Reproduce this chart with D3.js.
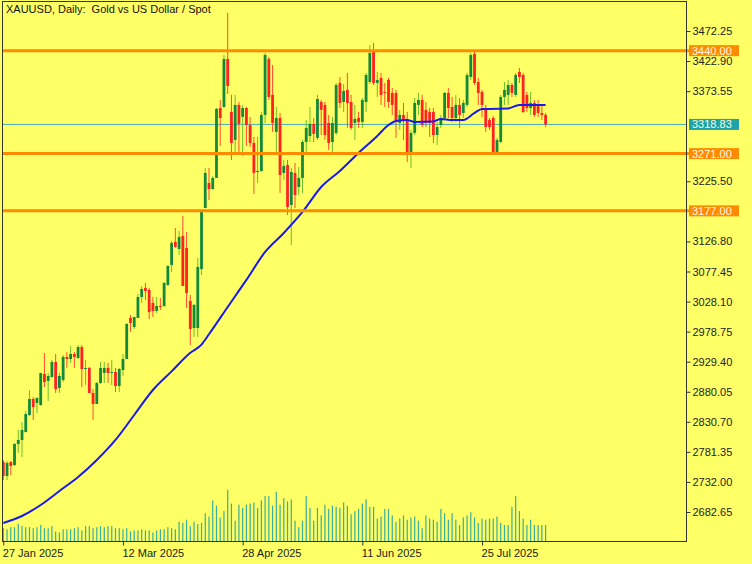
<!DOCTYPE html>
<html>
<head>
<meta charset="utf-8">
<script src="https://cdnjs.cloudflare.com/ajax/libs/d3/7.8.5/d3.min.js"></script>
<style>
  body { margin: 0; background: #ffff66; }
  svg { display: block; font-family: "Liberation Sans", Arial, sans-serif; }
</style>
</head>
<body>
<div id="chart"></div>
<script>
// daily XAUUSD bars, 27 Jan 2025 onwards
var opens = [2764.7,2741.8,2764.7,2759.8,2794.3,2800.9,2813.8,2841.9,2868.2,2861.6,
  2858.3,2909.2,2897.7,2904.3,2928.9,2886.2,2899.4,2937.1,2933.8,2942.0,
  2935.5,2953.5,2917.4,2919.1,2878.0,2860.0,2894.4,2910.9,2919.1,2910.9,
  2912.5,2889.5,2915.8,2933.8,3001.2,2986.4,3001.2,3035.6,3050.4,3047.1,
  3025.8,3012.7,3020.9,3020.9,3055.4,3088.2,3126.0,3114.5,3135.8,3116.1,
  3029.1,2984.7,2984.7,3081.6,3181.7,3222.8,3212.9,3231.0,3345.9,3347.6,
  3426.4,3339.4,3293.4,3350.9,3331.2,3345.9,3318.0,3288.5,3240.9,3242.5,
  3334.5,3426.4,3367.3,3306.6,3329.5,3239.2,3252.3,3186.7,3239.2,3216.2,
  3231.0,3290.1,3300.0,3319.7,3296.7,3355.8,3350.9,3321.3,3290.1,3304.9,
  3387.0,3355.8,3375.5,3355.8,3321.3,3329.5,3323.0,3355.8,3388.6,3437.9,
  3387.0,3395.2,3372.2,3391.9,3370.6,3370.6,3321.3,3334.5,3326.2,3273.7,
  3304.9,3350.9,3359.1,3342.7,3339.4,3339.4,3301.6,3318.0,3329.5,3370.6,
  3347.6,3329.5,3350.9,3337.7,3350.9,3396.8,3434.6,3388.6,3372.2,3345.9,
  3326.2,3329.5,3273.7,3290.1,3364.0,3367.3,3383.7,3367.3,3405.0,3400.1,
  3367.3,3345.9,3354.2,3350.9,3337.7,3334.5];

var highs = [2768.0,2766.4,2766.4,2795.9,2817.4,2830.4,2848.5,2882.9,2871.4,2871.4,
  2910.9,2943.7,2910.9,2932.2,2942.0,2910.9,2940.4,2945.3,2955.2,2945.3,
  2956.8,2956.8,2932.2,2920.7,2884.6,2896.1,2928.9,2928.9,2927.3,2932.2,
  2919.1,2919.1,2942.0,2992.9,3006.1,3002.8,3040.6,3053.7,3058.6,3050.4,
  3035.6,3035.6,3034.0,3060.3,3088.2,3127.6,3148.9,3144.0,3168.6,3142.4,
  3038.9,3024.2,3099.7,3178.5,3247.4,3247.4,3234.3,3345.9,3359.1,3432.9,
  3501.9,3367.3,3367.3,3355.8,3350.9,3347.6,3331.2,3298.3,3298.3,3339.4,
  3436.2,3429.7,3416.5,3347.6,3337.7,3260.5,3260.5,3247.4,3255.6,3249.1,
  3293.4,3326.2,3347.6,3329.5,3367.3,3359.1,3355.8,3334.5,3331.2,3387.0,
  3396.8,3385.3,3403.4,3367.3,3350.9,3339.4,3362.3,3403.4,3449.4,3452.7,
  3405.0,3403.4,3387.0,3395.2,3378.8,3375.5,3342.7,3354.2,3339.4,3309.9,
  3362.3,3370.6,3367.3,3355.8,3345.9,3345.9,3323.0,3334.5,3372.2,3378.8,
  3364.0,3367.3,3362.3,3359.1,3403.4,3436.2,3441.2,3395.2,3375.5,3350.9,
  3329.5,3332.8,3296.7,3367.3,3388.6,3391.9,3387.0,3403.4,3411.6,3403.4,
  3372.2,3372.2,3359.1,3359.1,3350.9,3337.7];

var lows = [2735.2,2735.2,2743.4,2758.2,2779.5,2773.0,2813.8,2840.2,2833.7,2845.2,
  2856.7,2887.9,2864.9,2902.6,2878.0,2878.0,2896.1,2919.1,2927.3,2919.1,
  2933.8,2887.9,2891.1,2878.0,2833.7,2860.0,2892.8,2894.4,2894.4,2891.1,
  2879.6,2879.6,2905.9,2933.8,2978.2,2983.1,3001.2,3025.8,3030.7,2999.5,
  3002.8,3009.4,3014.3,3019.2,3053.7,3076.7,3116.1,3104.6,3053.7,3017.6,
  2956.8,2970.0,2970.0,3071.8,3181.7,3194.9,3211.3,3231.0,3283.6,3345.9,
  3368.9,3260.5,3268.8,3268.8,3267.1,3283.6,3281.9,3204.7,3222.8,3240.9,
  3321.3,3359.1,3306.6,3273.7,3206.4,3227.7,3170.2,3121.0,3181.7,3203.1,
  3206.4,3273.7,3290.1,3290.1,3293.4,3301.6,3293.4,3277.0,3273.7,3301.6,
  3345.9,3339.4,3313.1,3309.9,3293.4,3313.1,3313.1,3339.4,3385.3,3383.7,
  3364.0,3350.9,3347.6,3345.9,3334.5,3296.7,3309.9,3293.4,3257.3,3247.4,
  3301.6,3334.5,3314.7,3314.7,3298.3,3288.5,3285.2,3313.1,3326.2,3329.5,
  3323.0,3323.0,3313.1,3329.5,3347.6,3391.9,3383.7,3350.9,3331.2,3306.6,
  3309.9,3268.8,3272.1,3288.5,3350.9,3350.9,3364.0,3364.0,3387.0,3337.7,
  3339.4,3334.5,3331.2,3331.2,3326.2,3314.7];

var closes = [2741.8,2763.1,2758.2,2794.3,2800.9,2817.4,2843.5,2868.2,2855.0,2869.8,
  2910.9,2896.1,2905.9,2928.9,2884.6,2905.9,2937.1,2933.8,2942.0,2937.1,
  2953.5,2917.4,2919.1,2878.0,2860.0,2894.4,2919.1,2919.1,2910.9,2912.5,
  2889.5,2917.4,2933.8,2991.3,2992.9,3002.8,3035.6,3048.8,3045.5,3011.0,
  3012.7,3020.9,3019.2,3058.6,3086.5,3124.3,3117.8,3134.2,3053.7,3042.2,
  2983.1,3022.5,3084.9,3175.2,3239.2,3212.9,3231.0,3344.3,3329.5,3426.4,
  3382.0,3288.5,3350.9,3319.7,3345.9,3318.0,3288.5,3239.2,3242.5,3334.5,
  3432.9,3364.0,3321.3,3329.5,3235.9,3250.7,3183.4,3240.9,3203.1,3231.0,
  3290.1,3313.1,3319.7,3303.3,3360.7,3342.7,3301.6,3288.5,3321.3,3383.7,
  3354.2,3373.9,3354.2,3313.1,3327.9,3323.0,3359.1,3400.1,3436.2,3387.0,
  3391.9,3367.3,3370.6,3355.8,3350.9,3323.0,3334.5,3326.2,3273.7,3304.9,
  3354.2,3359.1,3318.0,3321.3,3321.3,3301.6,3314.7,3329.5,3370.6,3345.9,
  3329.5,3350.9,3334.5,3354.2,3400.1,3432.9,3387.0,3370.6,3350.9,3314.7,
  3314.7,3273.7,3293.4,3364.0,3375.5,3383.7,3370.6,3400.1,3396.8,3339.4,
  3345.9,3354.2,3334.5,3337.7,3334.5,3318.8];

// tick volume
var volumes = [128,117,138,138,170,149,138,138,128,138,
  160,128,128,149,95,85,117,117,117,128,
  138,106,149,149,128,138,149,138,149,149,
  128,128,117,128,95,106,106,117,106,106,
  85,106,117,117,138,128,117,192,181,213,
  149,192,170,181,278,245,406,353,235,299,
  513,374,203,363,331,363,374,385,331,406,
  449,449,353,492,363,428,396,417,203,138,
  203,449,331,203,331,256,363,321,353,342,
  331,385,353,267,299,321,374,417,342,342,
  224,245,321,321,256,192,224,256,213,235,
  245,203,128,256,224,213,192,321,278,213,
  278,213,160,235,256,288,235,181,224,213,
  224,224,245,181,160,160,342,449,299,224,
  160,213,160,160,160,160];

// moving average, read at these bars
var maBars = [0,5,10,15,20,25,30,35,40,45,50,53,55,60,65,70,75,80,85,90,95,100,103,105,108,110,115,117,120,123,126,128,130,135,138,140,145];
var maValues = [2664.6,2676.1,2694.2,2717.1,2740.1,2768.0,2800.9,2841.9,2882.9,2913.5,
  2944.0,2957.5,2974.5,3019.2,3063.6,3109.5,3140.7,3175.2,3216.2,3242.5,
  3272.1,3300.0,3318.0,3324.6,3326.2,3323.0,3323.8,3327.9,3326.2,3326.2,
  3337.7,3344.3,3344.3,3345.1,3350.9,3350.9,3350.9];

var priceTicks = [3472.25,3422.90,3373.55,3225.50,3126.80,3077.45,3028.10,2978.75,2929.40,2880.05,2830.70,2781.35,2732.00,2682.65];
var levels = [3440.00, 3271.00, 3177.00];
var lastPrice = 3318.83;

var dateTickBars = [0, 32, 64, 96, 128];
var dateTickLabels = ['27 Jan 2025', '12 Mar 2025', '28 Apr 2025', '11 Jun 2025', '25 Jul 2025'];

(function() {
  var width = 752, height = 564;
  var plotLeft = 2.5, plotRight = 686.5, plotTop = 1.5, plotBottom = 541.5;

  var svg = d3.select("#chart")
      .append("svg")
      .attr("width", width)
      .attr("height", height);

  svg.append("rect")
      .attr("width", width)
      .attr("height", height)
      .attr("fill", "#ffff66");

  var xScale = d3.scaleLinear()
      .domain([0, 145])
      .range([3.3, 545.6]);

  var yScale = d3.scaleLinear()
      .domain([2682.65, 3472.25])
      .range([512, 31]);

  var volScale = d3.scaleLinear()
      .domain([0, 600])
      .range([541, 481]);

  svg.append("clipPath")
      .attr("id", "plot-clip")
      .append("rect")
      .attr("x", plotLeft)
      .attr("y", plotTop)
      .attr("width", plotRight - plotLeft)
      .attr("height", plotBottom - plotTop);

  var plot = svg.append("g").attr("clip-path", "url(#plot-clip)");

  // last price line
  plot.append("line")
      .attr("x1", plotLeft).attr("x2", plotRight)
      .attr("y1", yScale(lastPrice)).attr("y2", yScale(lastPrice))
      .attr("stroke", "#4bb0b8")
      .attr("stroke-width", 1);

  // volume
  plot.selectAll(".vol")
      .data(volumes)
      .enter().append("rect")
      .attr("class", "vol")
      .attr("x", function(d, i) { return xScale(i) - 0.6; })
      .attr("y", function(d) { return volScale(d); })
      .attr("width", 1.2)
      .attr("height", function(d) { return volScale(0) - volScale(d); })
      .attr("fill", "#3aae9a");

  var bars = d3.range(opens.length);

  plot.selectAll(".wick")
      .data(bars)
      .enter().append("line")
      .attr("class", "wick")
      .attr("x1", function(i) { return xScale(i); })
      .attr("x2", function(i) { return xScale(i); })
      .attr("y1", function(i) { return yScale(highs[i]); })
      .attr("y2", function(i) { return yScale(lows[i]); })
      .attr("stroke", function(i) { return closes[i] >= opens[i] ? "#6cbf2a" : "#ff4d2e"; })
      .attr("stroke-width", 1);

  plot.selectAll(".body")
      .data(bars)
      .enter().append("rect")
      .attr("class", "body")
      .attr("x", function(i) { return xScale(i) - 1.4; })
      .attr("y", function(i) { return yScale(Math.max(opens[i], closes[i])); })
      .attr("width", 2.8)
      .attr("height", function(i) {
        return Math.max(1, Math.abs(yScale(opens[i]) - yScale(closes[i])));
      })
      .attr("fill", function(i) { return closes[i] >= opens[i] ? "#13893a" : "#ff2222"; });

  // moving average
  var maLine = d3.line()
      .x(function(d) { return xScale(d[0]); })
      .y(function(d) { return yScale(d[1]); })
      .curve(d3.curveMonotoneX);

  plot.append("path")
      .datum(maBars.map(function(b, k) { return [b, maValues[k]]; }))
      .attr("d", maLine)
      .attr("fill", "none")
      .attr("stroke", "#1a1aee")
      .attr("stroke-width", 2);

  // horizontal levels
  svg.selectAll(".level")
      .data(levels)
      .enter().append("line")
      .attr("class", "level")
      .attr("x1", plotLeft).attr("x2", 689)
      .attr("y1", function(d) { return yScale(d); })
      .attr("y2", function(d) { return yScale(d); })
      .attr("stroke", "#ff8c00")
      .attr("stroke-width", 3);

  // frame
  svg.append("rect")
      .attr("x", plotLeft).attr("y", plotTop)
      .attr("width", plotRight - plotLeft)
      .attr("height", plotBottom - plotTop)
      .attr("fill", "none")
      .attr("stroke", "#333")
      .attr("stroke-width", 1);

  // price axis
  var yAxis = d3.axisRight(yScale)
      .tickValues(priceTicks)
      .tickSize(4)
      .tickPadding(2)
      .tickFormat(d3.format(".2f"));

  var yg = svg.append("g")
      .attr("class", "y axis")
      .attr("transform", "translate(" + plotRight + ",0)")
      .call(yAxis);
  yg.select(".domain").remove();
  yg.selectAll("line").attr("stroke", "#333");
  yg.selectAll("text")
      .attr("fill", "#222")
      .style("font-size", "11px")
      .style("font-family", "'Liberation Sans', Arial, sans-serif");

  // date axis
  var xAxis = d3.axisBottom(xScale)
      .tickValues(dateTickBars)
      .tickSize(4)
      .tickFormat(function(d, k) { return dateTickLabels[k]; });

  var xg = svg.append("g")
      .attr("class", "x axis")
      .attr("transform", "translate(0," + plotBottom + ")")
      .call(xAxis);
  xg.select(".domain").remove();
  xg.selectAll("line").attr("stroke", "#333");
  xg.selectAll("text")
      .attr("fill", "#222")
      .attr("text-anchor", "start")
      .attr("x", -1)
      .attr("y", 8)
      .style("font-size", "11px")
      .style("font-family", "'Liberation Sans', Arial, sans-serif");

  // price labels on the axis
  var tags = levels.map(function(d) { return {value: d, fill: "#ff8c00"}; });
  tags.push({value: lastPrice, fill: "#1fa3a8"});

  var tag = svg.selectAll(".tag")
      .data(tags)
      .enter().append("g")
      .attr("class", "tag")
      .attr("transform", function(d) { return "translate(689," + yScale(d.value) + ")"; });

  tag.append("rect")
      .attr("x", 0).attr("y", -5.5)
      .attr("width", 50).attr("height", 11)
      .attr("fill", function(d) { return d.fill; });

  tag.append("text")
      .attr("x", 3).attr("y", 4)
      .attr("fill", "#fffbe0")
      .style("font-size", "11px")
      .text(function(d) { return d3.format(".2f")(d.value); });

  svg.append("text")
      .attr("x", 6)
      .attr("y", 13)
      .attr("fill", "#111")
      .style("font-size", "11px")
      .style("white-space", "pre")
      .attr("xml:space", "preserve")
      .text("XAUUSD, Daily:  Gold vs US Dollar / Spot");
})();
</script>
</body>
</html>
